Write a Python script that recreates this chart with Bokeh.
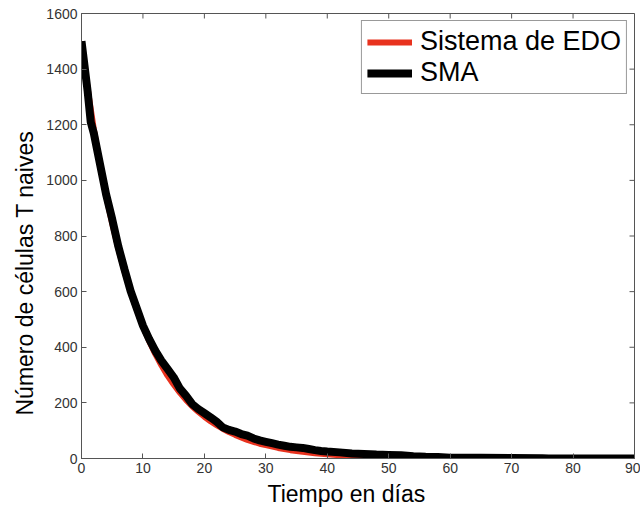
import math
from bokeh.plotting import figure
from bokeh.models import Range1d, Legend, LegendItem, Title
from bokeh.embed import file_html
from bokeh.resources import INLINE

# ODE solution (Sistema de EDO)
t_ode = [0, 1, 2, 3, 4, 5, 6, 7, 8, 9, 10, 11, 12, 13, 14, 15, 16, 17, 18, 19, 20,
         21, 22, 23, 24, 25, 26, 27, 28, 29, 30, 32, 34, 36, 38, 40, 42, 44, 46, 48, 50,
         55, 60, 65, 70, 75, 80, 85, 90]
n_ode = [1500, 1330, 1185, 1055, 945, 845, 755, 672, 600, 535, 475, 423, 376, 335, 298, 266,
         237, 211, 188, 168, 150, 134, 120, 107, 95, 85, 76, 67, 60, 53, 48, 38, 30, 24, 19,
         15, 12, 9, 8, 6, 5, 3, 2, 1, 0.5, 0.3, 0.2, 0.1, 0]

# Agent-based simulation (SMA)
t_sma = [0, 0.5, 1, 1.5, 2, 3, 4, 5, 6, 7, 8, 9, 10, 11, 12, 13, 14, 15, 16, 17, 18, 19, 20,
         21, 22, 23, 24, 25, 26, 27, 28, 29, 30, 31, 32, 33, 34, 35, 36, 37, 38, 39, 40,
         42, 44, 46, 48, 50, 52, 54, 56, 58, 60, 65, 70, 75, 76, 80, 85, 90]
n_sma = [1500, 1410, 1320, 1210, 1170, 1060, 950, 860, 762, 680, 602, 540, 478, 430, 388, 352,
         322, 292, 252, 226, 196, 178, 163, 148, 132, 112, 103, 97, 88, 82, 72, 65, 60, 55, 50,
         46, 42, 40, 38, 34, 30, 27, 25, 22, 18, 16, 14, 13, 12, 8, 6, 5, 3, 3, 2, 1, 0, 0, 0, 0]

x_ticks = list(range(0, 91, 10))
y_ticks = list(range(0, 1601, 200))

FONT = "Liberation Sans"
AX = "#555555"
RED = "#e8321e"

p = figure(width=640, height=509, output_backend="svg", toolbar_location=None,
           x_range=Range1d(0, 90), y_range=Range1d(0, 1600),
           min_border_left=81, min_border_right=6, min_border_top=13, min_border_bottom=51)
p.grid.visible = False
p.outline_line_color = AX
p.background_fill_color = "white"

r1 = p.line(t_ode, n_ode, line_color=RED, line_width=6)
r2 = p.line(t_sma, n_sma, line_color="black", line_width=8)

# mirrored inward ticks on top and right edges
p.ray(x=x_ticks, y=[1600] * len(x_ticks), length=5, length_units="screen",
      angle=-math.pi / 2, line_color=AX, line_width=1)
p.ray(x=[90] * len(y_ticks), y=y_ticks, length=5, length_units="screen",
      angle=math.pi, line_color=AX, line_width=1)

p.xaxis.ticker = x_ticks
p.yaxis.ticker = y_ticks
for ax in list(p.xaxis) + list(p.yaxis):
    ax.major_tick_in = 5
    ax.major_tick_out = 0
    ax.minor_tick_in = 0
    ax.minor_tick_out = 0
    ax.axis_line_color = AX
    ax.major_tick_line_color = AX
    ax.major_label_text_font = FONT
    ax.major_label_text_font_size = "14px"
    ax.major_label_text_color = "#333333"
    ax.major_label_standoff = 4

legend = Legend(items=[LegendItem(label="Sistema de EDO", renderers=[r1]),
                       LegendItem(label="SMA", renderers=[r2])],
                location="top_right", label_text_font=FONT, label_text_font_size="27px",
                label_text_color="black",
                border_line_color="#333333", border_line_width=1, glyph_width=45,
                glyph_height=20, label_height=28, spacing=0, padding=5, margin=7,
                label_standoff=8, background_fill_alpha=1)
p.add_layout(legend)

xt = Title(text="Tiempo en días", align="left", offset=186, text_font=FONT,
           text_font_size="23px", text_font_style="normal", text_color="black", standoff=6)
p.add_layout(xt, "below")
yt = Title(text="Número de células T naives", align="left", offset=43, text_font=FONT,
           text_font_size="23px", text_font_style="normal", text_color="black", standoff=12)
p.add_layout(yt, "left")

open("out.html", "w").write(file_html(p, INLINE))
